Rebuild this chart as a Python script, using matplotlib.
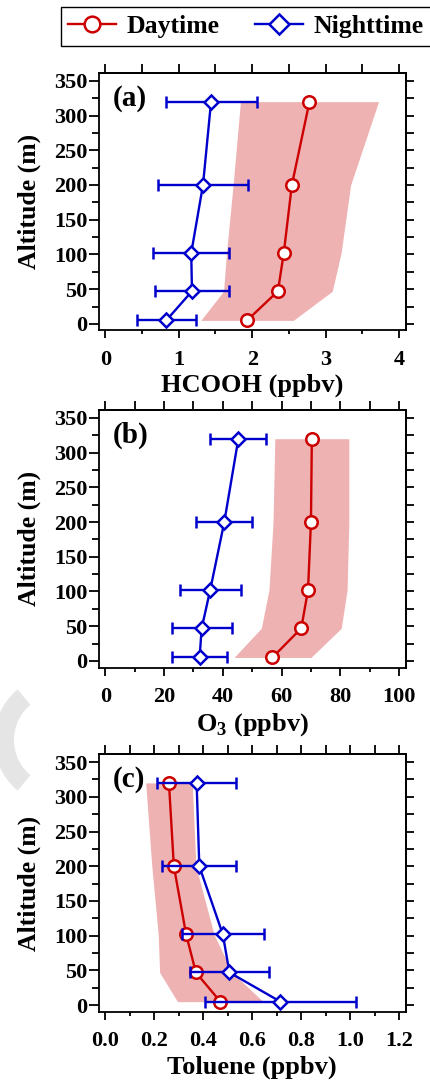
import matplotlib
matplotlib.use('Agg')
import matplotlib.pyplot as plt
from matplotlib.lines import Line2D
from matplotlib.patches import Wedge
from matplotlib.ticker import MultipleLocator, FormatStrFormatter

# ---------------- data ----------------
altitude = [5, 47, 102, 200, 320]

hcooh_day = [1.93, 2.35, 2.43, 2.54, 2.78]
hcooh_day_sd = [0.63, 0.74, 0.78, 0.80, 0.94]
hcooh_night = [0.83, 1.18, 1.17, 1.33, 1.44]
hcooh_night_sd = [0.40, 0.51, 0.52, 0.61, 0.62]

o3_day = [56.9, 66.7, 69.0, 70.0, 70.3]
o3_day_sd = [13.1, 13.6, 13.3, 12.9, 12.6]
o3_night = [32.1, 32.8, 35.7, 40.5, 45.3]
o3_night_sd = [9.4, 10.2, 10.4, 9.5, 9.5]

tol_day = [0.47, 0.37, 0.33, 0.28, 0.26]
tol_day_sd = [0.175, 0.148, 0.114, 0.09, 0.095]
tol_night = [0.715, 0.507, 0.48, 0.384, 0.373]
tol_night_sd = [0.307, 0.16, 0.168, 0.151, 0.162]

panel_letters = ['(a)', '(b)', '(c)']
x_labels = ['HCOOH (ppbv)', r'O$_\mathregular{3}$ (ppbv)', 'Toluene (ppbv)']
x_major = [1, 20, 0.2]
x_minor = [0.5, 10, 0.1]
x_max = [4, 100, 1.2]
x_fmt = ['%d', '%d', '%.1f']
legend_labels = ['Daytime', 'Nighttime']

# ---------------- style ----------------
plt.rcParams['font.family'] = ['Liberation Serif', 'DejaVu Serif']
plt.rcParams['font.weight'] = 'bold'
plt.rcParams['mathtext.fontset'] = 'custom'
plt.rcParams['mathtext.rm'] = 'Liberation Serif:bold'
plt.rcParams['mathtext.bf'] = 'Liberation Serif:bold'
plt.rcParams['axes.linewidth'] = 1.3

RED = '#CC0000'
BLUE = '#0000CC'
SHADE = '#EFB2B2'

fig = plt.figure(figsize=(4.3, 10.81), dpi=100)

# faint watermark arc at the left edge (positioned in inches)
fig.patches.append(Wedge((0.60, (1081 - 740) / 100), 0.66, 130, 230,
                         width=0.20, transform=fig.dpi_scale_trans,
                         facecolor='#e5e5e5', edgecolor='none', zorder=0))

bottoms = [0.6943, 0.3825, 0.0641]
datasets = [
    (hcooh_day, hcooh_day_sd, hcooh_night, hcooh_night_sd),
    (o3_day, o3_day_sd, o3_night, o3_night_sd),
    (tol_day, tol_day_sd, tol_night, tol_night_sd),
]

for i, (day, day_sd, night, night_sd) in enumerate(datasets):
    ax = fig.add_axes([0.2295, bottoms[i], 0.714, 0.238])
    lo = [d - s for d, s in zip(day, day_sd)]
    hi = [d + s for d, s in zip(day, day_sd)]
    ax.fill_betweenx(altitude, lo, hi, color=SHADE, linewidth=0, zorder=1)
    ax.plot(day, altitude, '-o', color=RED, lw=1.7, ms=9, mfc='white',
            mec=RED, mew=1.8, zorder=3)
    ax.errorbar(night, altitude, xerr=night_sd, fmt='-D', color=BLUE,
                lw=1.7, ms=7.3, mfc='white', mec=BLUE, mew=1.8,
                ecolor=BLUE, elinewidth=1.7, capsize=4.5, capthick=1.7,
                zorder=4)

    xm = x_max[i]
    ax.set_xlim(-0.0225 * xm, 1.0225 * xm)
    ax.set_ylim(-9.5, 361)
    ax.xaxis.set_major_locator(MultipleLocator(x_major[i]))
    ax.xaxis.set_minor_locator(MultipleLocator(x_minor[i]))
    ax.xaxis.set_major_formatter(FormatStrFormatter(x_fmt[i]))
    ax.yaxis.set_major_locator(MultipleLocator(50))
    ax.yaxis.set_minor_locator(MultipleLocator(25))

    ax.tick_params(axis='x', which='major', direction='out', length=6,
                   width=1.3, pad=8, labelsize=16)
    ax.tick_params(axis='x', which='minor', direction='out', length=3,
                   width=1.3)
    ax.tick_params(axis='y', which='major', direction='out', length=7.2,
                   width=1.3, pad=1, labelsize=16)
    ax.tick_params(axis='y', which='minor', direction='out', length=5,
                   width=1.3)
    for lab in ax.get_xticklabels() + ax.get_yticklabels():
        lab.set_fontweight('bold')

    # top and right ticks (outward, no labels)
    top = ax.secondary_xaxis('top')
    top.xaxis.set_major_locator(MultipleLocator(x_minor[i]))
    top.tick_params(axis='x', direction='out', length=6.5, width=1.3,
                    labeltop=False)
    right = ax.secondary_yaxis('right')
    right.yaxis.set_major_locator(MultipleLocator(25))
    right.tick_params(axis='y', direction='out', length=6, width=1.3,
                      labelright=False)

    ax.set_xlabel(x_labels[i], fontsize=19, fontweight='bold', labelpad=3)
    ax.set_ylabel('Altitude (m)', fontsize=18.5, fontweight='bold',
                  labelpad=9)
    ax.text(0.045, 0.955, panel_letters[i], transform=ax.transAxes,
            ha='left', va='top', fontsize=21, fontweight='bold', zorder=6)

handles = [
    Line2D([], [], color=RED, lw=1.7, marker='o', ms=11.3, mfc='white',
           mec=RED, mew=1.8),
    Line2D([], [], color=BLUE, lw=1.7, marker='D', ms=10, mfc='white',
           mec=BLUE, mew=1.8),
]
fig.legend(handles, legend_labels, loc='upper left',
           bbox_to_anchor=(60.7 / 430, 1 - 7.3 / 1081), ncol=2,
           frameon=True, fancybox=False, edgecolor='black', framealpha=1,
           prop={'size': 18.5, 'weight': 'bold'}, handlelength=1.85,
           handletextpad=0.4, columnspacing=1.4, borderpad=0.3,
           borderaxespad=0)

fig.savefig('out.png', dpi=100)
